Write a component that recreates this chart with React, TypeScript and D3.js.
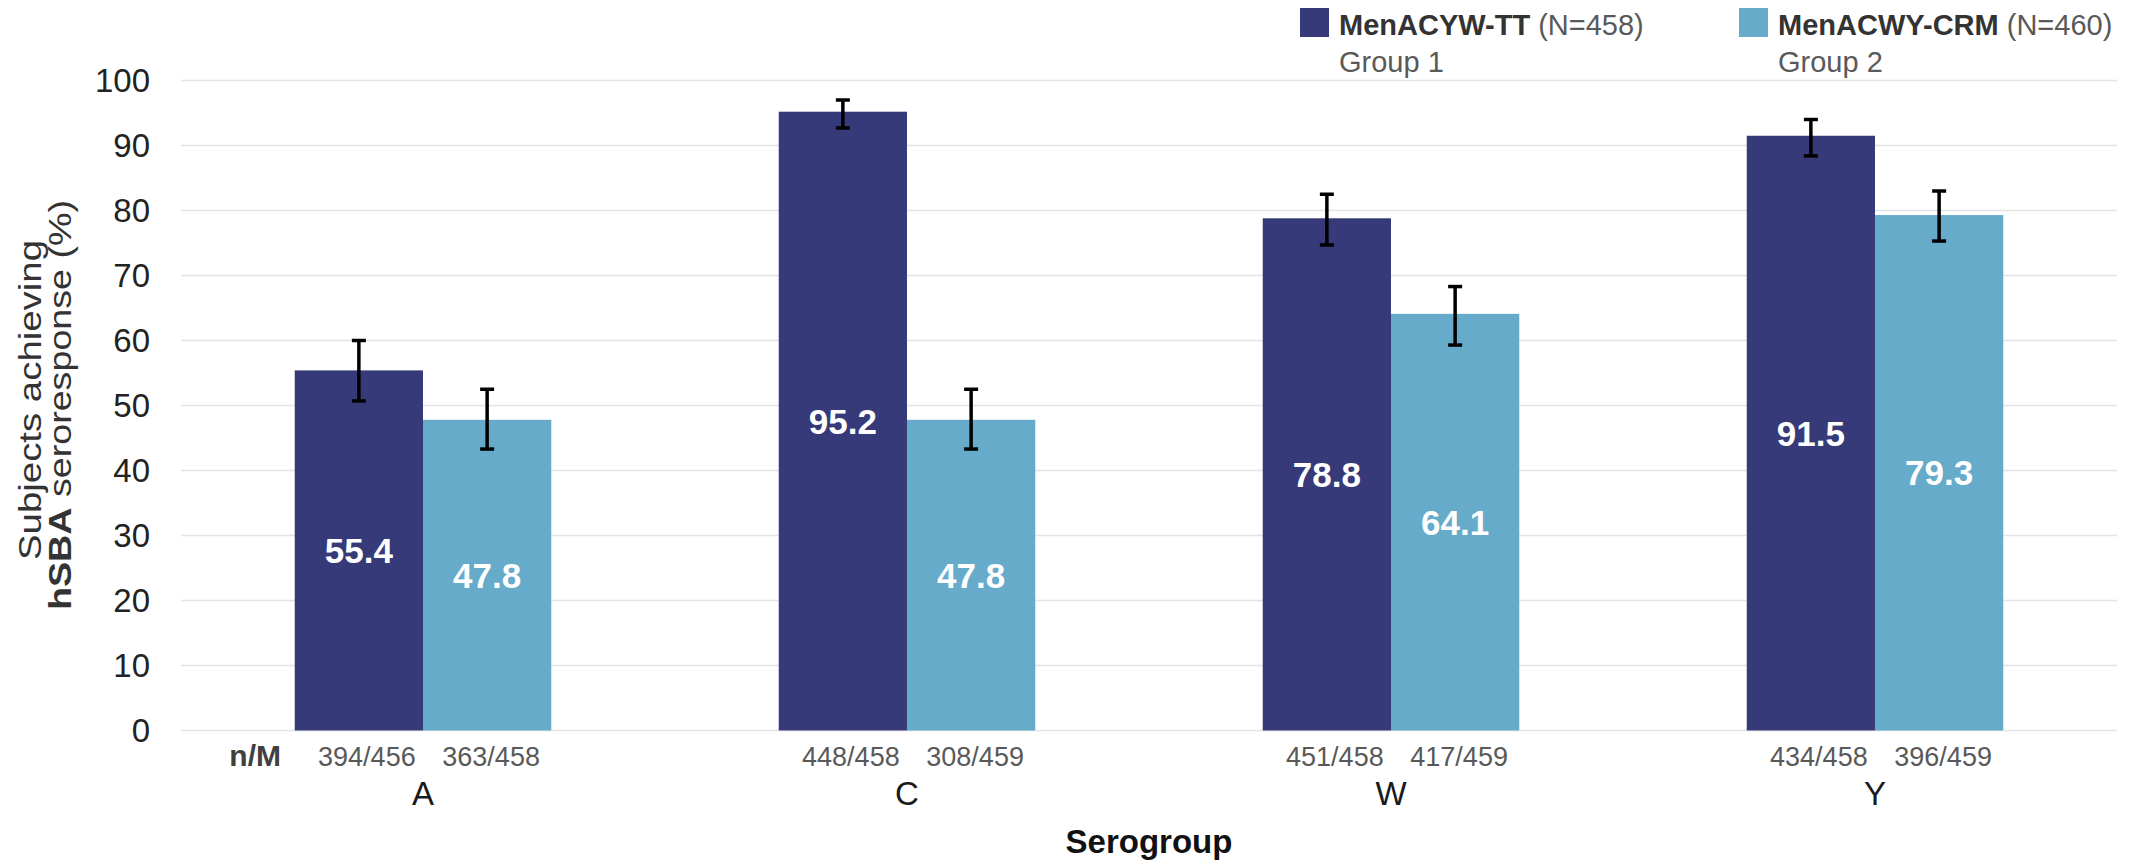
import { useEffect, useRef } from 'react'
import * as d3 from 'd3'

const serogroups = ['A', 'C', 'W', 'Y']
const groupNames = ['MenACYW-TT', 'MenACWY-CRM']
const groupN = ['(N=458)', '(N=460)']
const groupSub = ['Group 1', 'Group 2']
const ttValues = [55.4, 95.2, 78.8, 91.5]
const crmValues = [47.8, 47.8, 64.1, 79.3]
const ttLower = [50.7, 92.7, 74.7, 88.4]
const ttUpper = [60.0, 97.0, 82.5, 94.0]
const crmLower = [43.3, 43.3, 59.3, 75.3]
const crmUpper = [52.5, 52.5, 68.3, 83.0]
const ttNM = ['394/456', '448/458', '451/458', '434/458']
const crmNM = ['363/458', '308/459', '417/459', '396/459']
const yTicks = [0, 10, 20, 30, 40, 50, 60, 70, 80, 90, 100]

const colors = ['#363a78', '#67abca']
const FONT = '"Liberation Sans", Arial, sans-serif'

export default function App() {
  const ref = useRef<SVGSVGElement>(null)

  useEffect(() => {
    const W = 2133
    const H = 861
    const svg = d3.select(ref.current)
    svg.selectAll('*').remove()
    svg.attr('width', W).attr('height', H).style('font-family', FONT)

    const x = d3.scaleBand<string>()
      .domain(serogroups)
      .range([181, 2117])
      .paddingInner(0.47)
      .paddingOuter(0.235)

    const sub = d3.scaleBand<number>()
      .domain([0, 1])
      .range([0, x.bandwidth()])

    const y = d3.scaleLinear().domain([0, 100]).range([730.5, 80.5])

    // gridlines
    svg.append('g')
      .selectAll('line')
      .data(yTicks)
      .join('line')
      .attr('x1', 181)
      .attr('x2', 2117)
      .attr('y1', d => y(d))
      .attr('y2', d => y(d))
      .attr('stroke', '#e4e4e4')
      .attr('stroke-width', 1.6)

    // y tick labels
    svg.append('g')
      .selectAll('text')
      .data(yTicks)
      .join('text')
      .attr('x', 150)
      .attr('y', d => y(d))
      .attr('text-anchor', 'end')
      .attr('dominant-baseline', 'central')
      .style('font-size', '33px')
      .style('fill', '#222')
      .text(d => d)

    // y axis title (two lines, stretched to the reference length)
    svg.append('text')
      .attr('transform', 'translate(41,400) rotate(-90)')
      .attr('text-anchor', 'middle')
      .attr('textLength', 320)
      .attr('lengthAdjust', 'spacingAndGlyphs')
      .style('font-size', '32px')
      .style('fill', '#333')
      .text('Subjects achieving')
    const l2 = svg.append('text')
      .attr('transform', 'translate(71,405) rotate(-90)')
      .attr('text-anchor', 'middle')
      .attr('textLength', 410)
      .attr('lengthAdjust', 'spacingAndGlyphs')
      .style('font-size', '32px')
      .style('fill', '#333')
    l2.append('tspan').style('font-weight', 'bold').text('hSBA')
    l2.append('tspan').text(' seroresponse (%)')

    const rows = serogroups.map((g, i) => ({
      g,
      vals: [ttValues[i], crmValues[i]],
      lo: [ttLower[i], crmLower[i]],
      hi: [ttUpper[i], crmUpper[i]],
      nm: [ttNM[i], crmNM[i]],
    }))

    const bars = rows.flatMap(r => [0, 1].map(k => ({
      g: r.g, k, v: r.vals[k], lo: r.lo[k], hi: r.hi[k], nm: r.nm[k],
    })))

    const bx = (d: { g: string; k: number }) => (x(d.g) ?? 0) + (sub(d.k) ?? 0)
    const bw = sub.bandwidth()

    svg.append('g')
      .selectAll('rect')
      .data(bars)
      .join('rect')
      .attr('x', d => bx(d))
      .attr('y', d => y(d.v))
      .attr('width', bw)
      .attr('height', d => y(0) - y(d.v))
      .attr('fill', d => colors[d.k])

    // error bars
    const eb = svg.append('g')
      .selectAll('g')
      .data(bars)
      .join('g')
      .attr('stroke', '#000')
      .attr('stroke-width', 3.5)
    eb.append('line')
      .attr('x1', d => bx(d) + bw / 2)
      .attr('x2', d => bx(d) + bw / 2)
      .attr('y1', d => y(d.lo))
      .attr('y2', d => y(d.hi))
    eb.append('line')
      .attr('x1', d => bx(d) + bw / 2 - 7)
      .attr('x2', d => bx(d) + bw / 2 + 7)
      .attr('y1', d => y(d.hi))
      .attr('y2', d => y(d.hi))
    eb.append('line')
      .attr('x1', d => bx(d) + bw / 2 - 7)
      .attr('x2', d => bx(d) + bw / 2 + 7)
      .attr('y1', d => y(d.lo))
      .attr('y2', d => y(d.lo))

    // value labels
    svg.append('g')
      .selectAll('text')
      .data(bars)
      .join('text')
      .attr('x', d => bx(d) + bw / 2)
      .attr('y', d => (y(d.v) + y(0)) / 2)
      .attr('text-anchor', 'middle')
      .attr('dominant-baseline', 'central')
      .style('font-size', '35px')
      .style('font-weight', 'bold')
      .style('fill', '#fff')
      .text(d => d.v.toFixed(1))

    // n/M labels
    svg.append('text')
      .attr('x', 281)
      .attr('y', 766)
      .attr('text-anchor', 'end')
      .style('font-size', '30px')
      .style('font-weight', 'bold')
      .style('fill', '#404040')
      .text('n/M')

    svg.append('g')
      .selectAll('text')
      .data(bars)
      .join('text')
      .attr('x', d => bx(d) + bw / 2 + (d.k === 0 ? 8 : 4))
      .attr('y', 766)
      .attr('text-anchor', 'middle')
      .style('font-size', '27px')
      .style('fill', '#595959')
      .text(d => d.nm)

    // category labels
    svg.append('g')
      .selectAll('text')
      .data(serogroups)
      .join('text')
      .attr('x', d => (x(d) ?? 0) + x.bandwidth() / 2)
      .attr('y', 805)
      .attr('text-anchor', 'middle')
      .style('font-size', '33px')
      .style('fill', '#1a1a1a')
      .text(d => d)

    svg.append('text')
      .attr('x', 1149)
      .attr('y', 853)
      .attr('text-anchor', 'middle')
      .style('font-size', '33px')
      .style('font-weight', 'bold')
      .style('fill', '#111')
      .text('Serogroup')

    // legend
    const legX = [1300, 1739]
    groupNames.forEach((name, i) => {
      const lg = svg.append('g').attr('transform', `translate(${legX[i]},0)`)
      lg.append('rect').attr('x', 0).attr('y', 8).attr('width', 29).attr('height', 29).attr('fill', colors[i])
      const t = lg.append('text').attr('x', 39).attr('y', 35).style('font-size', '29px')
      t.append('tspan').style('font-weight', 'bold').style('fill', '#333').text(name)
      t.append('tspan').style('fill', '#595959').text(' ' + groupN[i])
      lg.append('text').attr('x', 39).attr('y', 72).style('font-size', '29px').style('fill', '#595959').text(groupSub[i])
    })
  }, [])

  return <svg ref={ref} style={{ position: 'absolute', left: 0, top: 0, display: 'block' }} />
}
